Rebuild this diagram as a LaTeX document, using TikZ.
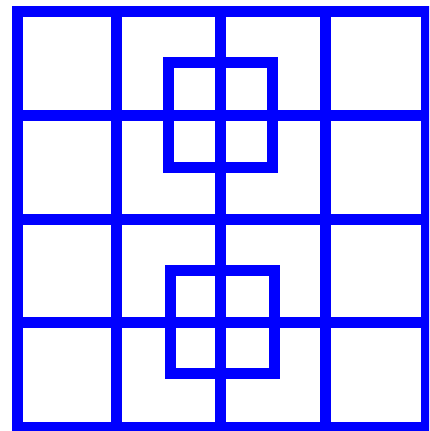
\documentclass[tikz,border=0pt]{standalone}
\begin{document}
\begin{tikzpicture}[x=1pt,y=-1pt,
  gridline/.style={draw=blue,line width=11pt,line cap=butt,line join=miter}]
\useasboundingbox (0,0) rectangle (429,431);
\clip (0,0) rectangle (429,431);
\fill[white] (0,0) rectangle (429,431);
% outer frame
\draw[gridline] (17,11) rectangle (426,427);
% inner vertical lines
\foreach \x in {116,220,325} \draw[gridline] (\x,11) -- (\x,427);
% inner horizontal lines
\foreach \y in {115,219,322} \draw[gridline] (17,\y) -- (426,\y);
% small squares
\draw[gridline] (168,62) rectangle (272,167);
\draw[gridline] (170,270) rectangle (274,373);
\end{tikzpicture}
\end{document}
